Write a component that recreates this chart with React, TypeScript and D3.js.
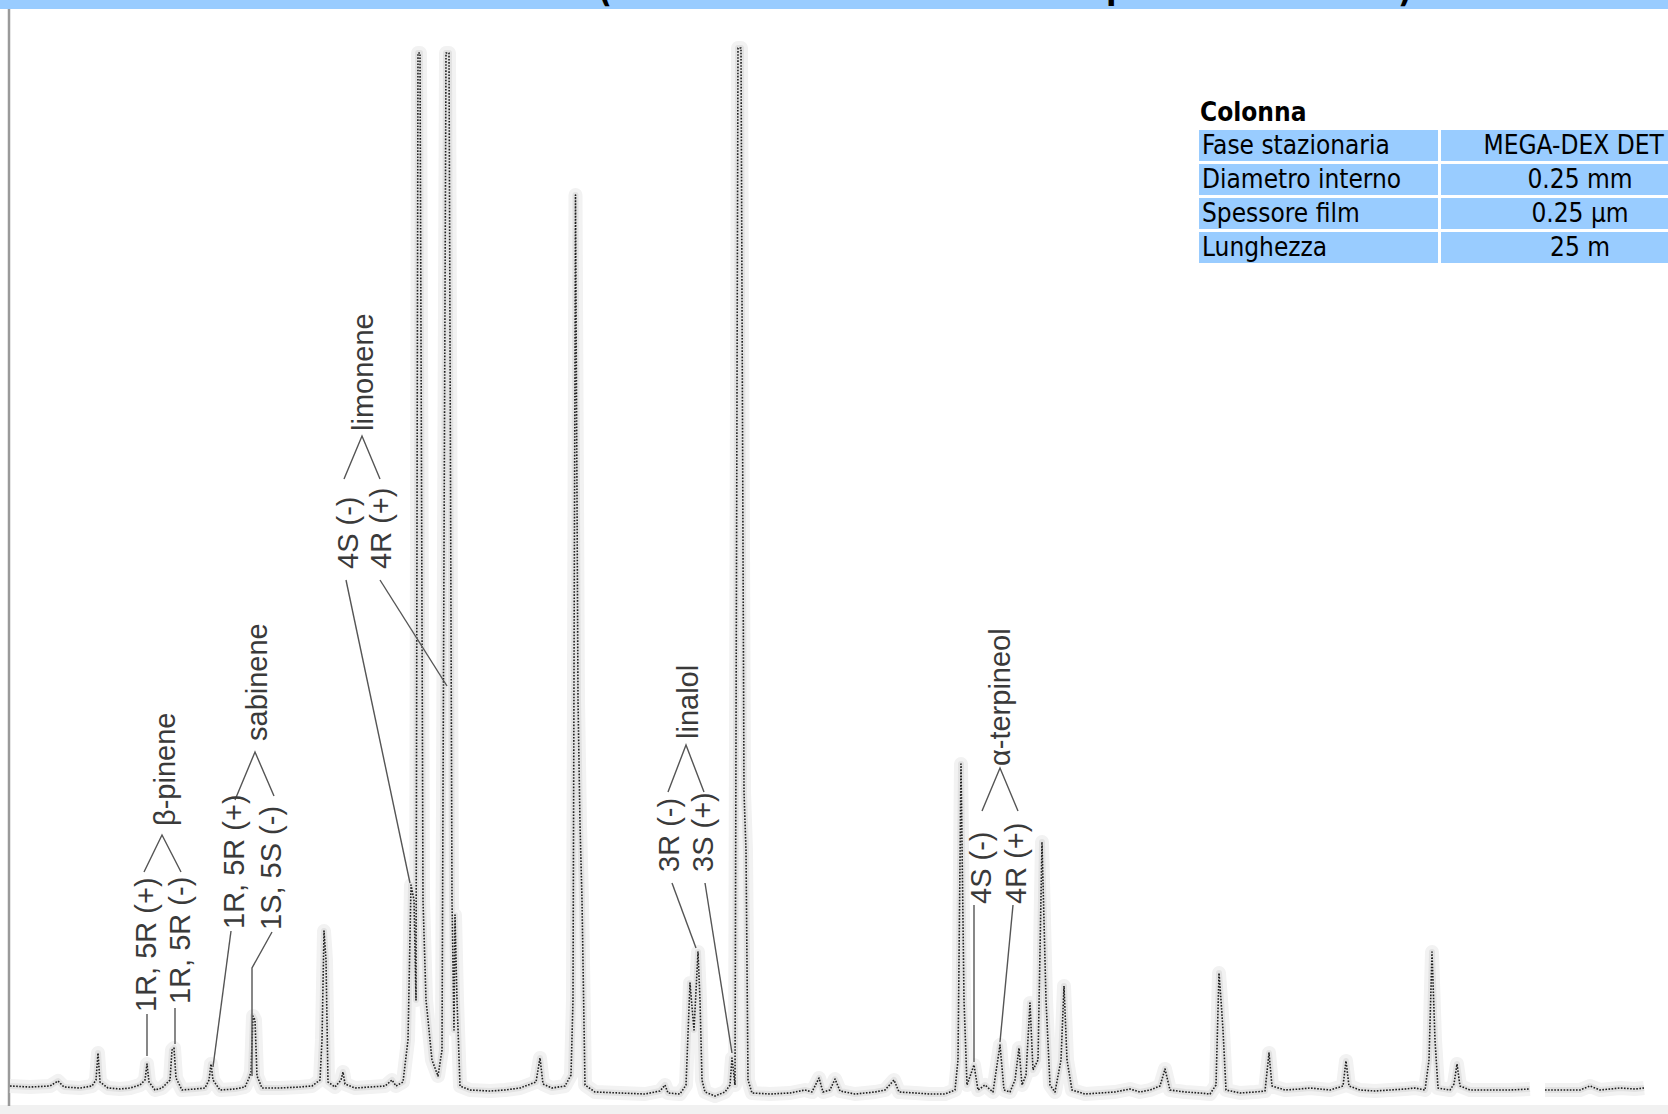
import React, { useMemo } from 'react';
import * as d3 from 'd3';

const WIDTH = 1668;
const HEIGHT = 1114;

// chromatogram trace: retention time (min), FID signal (pA); NaN = gap in the record
const trace: [number, number][] = [
  [0.04, 1], [0.44, 0.5], [0.84, 1], [1.0, 3.5], [1.12, 0.5], [1.44, 0], [1.68, 1],
  [1.76, 4], [1.8, 17.5], [1.84, 3], [2.0, 0], [2.24, -0.5], [2.44, 0], [2.64, 1.5],
  [2.74, 4], [2.78, 12], [2.82, 3], [2.94, -1], [3.08, 0], [3.24, 4], [3.28, 19],
  [3.32, 20], [3.36, 5], [3.48, -1], [3.74, -0.5], [3.94, 0], [4.02, 4], [4.06, 12],
  [4.1, 4], [4.24, -1], [4.54, -0.5], [4.74, 0.5], [4.82, 5], [4.86, 8], [4.9, 36],
  [4.94, 34], [4.98, 6], [5.08, 0], [5.44, 0], [5.84, 0.5], [6.08, 1], [6.24, 4],
  [6.28, 24], [6.32, 78.5], [6.36, 64], [6.4, 3], [6.54, 0.5], [6.66, 4], [6.7, 8],
  [6.74, 2], [6.94, 0], [7.24, 0.5], [7.54, 1], [7.68, 4], [7.76, 1], [7.9, 3],
  [8.0, 24], [8.06, 101.5], [8.12, 94], [8.16, 44], [8.2, 517.5], [8.24, 517.5],
  [8.3, 94], [8.36, 44], [8.48, 14], [8.6, 6], [8.68, 19], [8.76, 517.5], [8.82, 517.5],
  [8.88, 94], [8.92, 29], [8.94, 86.5], [8.98, 44], [9.04, 1], [9.24, -1], [9.64, -1.5],
  [9.94, -1], [10.24, 0], [10.56, 3], [10.64, 15], [10.7, 2], [10.88, 0], [11.14, 1],
  [11.26, 6.5], [11.3, 44], [11.35, 446.5], [11.4, 194], [11.44, 132], [11.48, 94],
  [11.54, 1.5], [11.74, -2], [12.24, -2.5], [12.74, -3], [13.04, -1.5], [13.14, 1.5],
  [13.2, -2.5], [13.44, -3], [13.56, 1.5], [13.64, 52.5], [13.72, 29], [13.8, 68],
  [13.84, 44], [13.88, 4], [13.94, -2], [14.14, -4], [14.34, -2], [14.44, 1.5],
  [14.48, 15], [14.54, 1.5], [14.6, 520], [14.66, 520], [14.72, 148], [14.76, 119],
  [14.8, 4], [14.88, -2.5], [15.24, -3], [15.64, -2.5], [15.94, -1], [16.08, -2],
  [16.22, 5], [16.3, -2], [16.44, -1], [16.54, 4.5], [16.64, -1.5], [16.94, -3],
  [17.34, -2], [17.54, -1], [17.72, 4], [17.82, -2], [18.14, -2.5], [18.44, -3],
  [18.74, -3], [18.94, -1], [19.0, 14], [19.06, 162], [19.12, 44], [19.18, 1.5],
  [19.32, 11.5], [19.4, -1], [19.54, 1.5], [19.7, -2], [19.84, 21.5], [19.92, -1],
  [20.04, -2], [20.14, 4], [20.22, 20], [20.28, 1.5], [20.36, 6.5], [20.44, 42.5],
  [20.5, 9], [20.6, 14], [20.68, 123], [20.76, 44], [20.84, 1.5], [20.94, -2],
  [21.06, 14], [21.12, 51], [21.18, 14], [21.28, -1], [21.54, -3], [21.84, -2.5],
  [22.14, -2], [22.44, -0.5], [22.64, -2], [22.84, -1], [23.04, 1], [23.14, 9.5],
  [23.24, -1], [23.54, -2], [23.84, -2.5], [24.04, -3], [24.16, 1.5], [24.22, 57.5],
  [24.26, 44], [24.3, 29], [24.36, -1], [24.64, -2.5], [24.94, -2], [25.14, -1.5],
  [25.22, 17.5], [25.28, 1], [25.54, -1], [25.84, -0.5], [26.04, 0], [26.24, -0.5],
  [26.44, -1], [26.7, 1], [26.76, 13.5], [26.82, 1], [27.04, -1], [27.34, -1.5],
  [27.64, -1], [27.94, -0.5], [28.14, 0], [28.34, -1], [28.42, 14], [28.48, 68],
  [28.54, 24], [28.6, 0], [28.84, -1], [28.92, 2], [28.98, 12], [29.04, 1],
  [29.24, -1], [29.64, -1], [30.04, -1], [30.44, -0.5], [30.6, NaN], [30.74, -1],
  [31.04, -1], [31.44, -1], [31.64, 1], [31.84, -1], [32.24, 0], [32.54, -0.5],
  [32.72, 0],
];

// column table
const tableTitle = 'Colonna';
const tableKeys = ['Fase stazionaria', 'Diametro interno', 'Spessore film', 'Lunghezza'];
const tableValues = ['MEGA-DEX DET', '0.25 mm', '0.25 µm', '25 m'];

// peak annotations, anchored in data units (time, signal)
const labels: { text: string; t: number; s: number }[] = [
  { text: '1R, 5R (+)', t: 2.96, s: 38 },
  { text: '1R, 5R (-)', t: 3.64, s: 42 },
  { text: 'β-pinene', t: 3.34, s: 131 },
  { text: '1R, 5R (+)', t: 4.72, s: 79.5 },
  { text: '1S, 5S (-)', t: 5.46, s: 79 },
  { text: 'sabinene', t: 5.18, s: 173.5 },
  { text: '4S (-)', t: 7.0, s: 259.5 },
  { text: '4R (+)', t: 7.66, s: 259.5 },
  { text: 'limonene', t: 7.3, s: 328.5 },
  { text: '3R (-)', t: 13.42, s: 108 },
  { text: '3S (+)', t: 14.1, s: 108 },
  { text: 'linalol', t: 13.8, s: 174.5 },
  { text: '4S (-)', t: 19.66, s: 92 },
  { text: '4R (+)', t: 20.36, s: 92 },
  { text: 'α-terpineol', t: 20.04, s: 161 },
];

const leaders: [number, number][][] = [
  [[2.78, 16], [2.78, 37]],
  [[3.34, 22], [3.34, 40]],
  [[2.72, 108], [3.08, 126.5], [3.46, 108]],
  [[4.46, 78.5], [4.1, 10.5]],
  [[5.28, 78], [4.88, 60], [4.88, 6]],
  [[4.54, 144], [4.94, 168], [5.32, 146]],
  [[6.76, 254], [8.04, 102.5]],
  [[7.44, 254], [8.78, 201]],
  [[6.72, 304.5], [7.08, 326], [7.44, 304.5]],
  [[13.28, 102.5], [13.76, 70]],
  [[13.94, 102.5], [14.48, 17.5]],
  [[13.2, 148], [13.56, 171.5], [13.92, 148]],
  [[19.32, 91.5], [19.32, 13]],
  [[20.1, 91.5], [19.84, 23]],
  [[19.48, 138.5], [19.84, 160], [20.2, 138.5]],
];

const BLUE = '#99ccff';
const labelFont = "'Liberation Sans', Arial, sans-serif";
const tableFont = "'DejaVu Sans Condensed', 'DejaVu Sans', sans-serif";

export default function App() {
  const x = useMemo(() => d3.scaleLinear().domain([0, 33]).range([8, 1658]), []);
  const y = useMemo(() => d3.scaleLinear().domain([0, 520]).range([1088, 48]), []);

  const line = d3
    .line<[number, number]>()
    .defined((d) => !isNaN(d[1]))
    .x((d) => x(d[0]))
    .y((d) => y(d[1]));

  const leaderLine = d3
    .line<[number, number]>()
    .x((d) => x(d[0]))
    .y((d) => y(d[1]));

  const tracePath = line(trace) || '';

  // table layout
  const tx = 1199;
  const keyW = 239;
  const valX = 1441;
  const rowTop = 130;
  const rowH = 31;
  const rowStep = 34;
  const valCenter = 1580;
  const rightLimit = 1661;
  const fontSize = 26;

  // keep an overlong value inside the visible part of the cell
  const valueX = (v: string) => {
    const half = (v.length * 0.56 * fontSize) / 2;
    return Math.min(valCenter, rightLimit - half);
  };

  return (
    <svg
      width={WIDTH}
      height={HEIGHT}
      style={{ position: 'absolute', left: 0, top: 0, display: 'block' }}
    >
      <rect x={0} y={0} width={WIDTH} height={HEIGHT} fill="#fff" />

      {/* title bar (title text falls outside the crop) */}
      <rect x={0} y={0} width={WIDTH} height={9} fill={BLUE} />
      <g fontFamily={tableFont} fontWeight="bold" fontSize={34} fill="#000">
        <text x={598} y={2}>(</text>
        <text x={1106} y={-1}>p</text>
        <text x={1398} y={2}>)</text>
      </g>

      {/* bottom strip and left axis */}
      <rect x={0} y={1105} width={WIDTH} height={9} fill="#f1f1f1" />
      <line x1={9} x2={9} y1={9} y2={1106} stroke="#9a9a9a" strokeWidth={2.5} />

      {/* trace */}
      <path
        d={tracePath}
        fill="none"
        stroke="#f2f2f2"
        strokeWidth={14}
        strokeLinejoin="round"
      />
      <path
        d={tracePath}
        fill="none"
        stroke="#e2e2e2"
        strokeWidth={6}
        strokeLinejoin="round"
      />
      <path
        d={tracePath}
        fill="none"
        stroke="#1e1e1e"
        strokeWidth={1.6}
        strokeDasharray="1.6 1.5"
        strokeLinejoin="round"
      />

      {/* annotations */}
      <g fill="none" stroke="#555" strokeWidth={1.4}>
        {leaders.map((pts, i) => (
          <path key={i} d={leaderLine(pts) || ''} />
        ))}
      </g>
      <g fontFamily={labelFont} fontSize={29} fill="#3a3a3a">
        {labels.map((l, i) => (
          <text key={i} transform={`translate(${x(l.t)},${y(l.s)}) rotate(-90)`}>
            {l.text}
          </text>
        ))}
      </g>

      {/* column table */}
      <g fontFamily={tableFont} fontSize={fontSize} fill="#000">
        <text x={tx + 1} y={121} fontWeight="bold">
          {tableTitle}
        </text>
        {tableKeys.map((k, i) => (
          <g key={k}>
            <rect x={tx} y={rowTop + i * rowStep} width={keyW} height={rowH} fill={BLUE} />
            <rect
              x={valX}
              y={rowTop + i * rowStep}
              width={WIDTH - valX + 60}
              height={rowH}
              fill={BLUE}
            />
            <text x={tx + 3} y={rowTop + i * rowStep + 24}>
              {k}
            </text>
            <text x={valueX(tableValues[i])} y={rowTop + i * rowStep + 24} textAnchor="middle">
              {tableValues[i]}
            </text>
          </g>
        ))}
      </g>
    </svg>
  );
}
